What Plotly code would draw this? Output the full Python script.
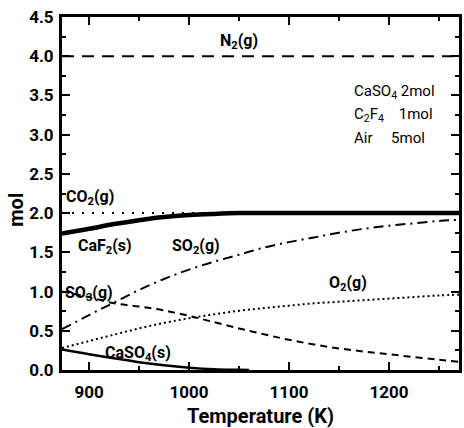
import plotly.graph_objects as go

T = [873, 900, 925, 950, 975, 1000, 1025, 1050, 1075, 1100, 1125, 1150, 1175, 1200, 1225, 1250, 1270]
so2 = [0.52, 0.70, 0.86, 1.02, 1.16, 1.28, 1.38, 1.47, 1.56, 1.63, 1.69, 1.75, 1.80, 1.84, 1.87, 1.90, 1.915]
so3 = [1.00, 0.93, 0.85, 0.81, 0.76, 0.69, 0.61, 0.53, 0.455, 0.385, 0.325, 0.275, 0.235, 0.20, 0.165, 0.13, 0.105]
o2 = [0.28, 0.37, 0.45, 0.53, 0.60, 0.66, 0.71, 0.755, 0.79, 0.82, 0.85, 0.87, 0.89, 0.91, 0.93, 0.95, 0.96]
caf2 = [1.74, 1.80, 1.86, 1.91, 1.95, 1.975, 1.99, 2.0, 2.0, 2.0, 2.0, 2.0, 2.0, 2.0, 2.0, 2.0, 2.0]
caso4_T = [873, 900, 925, 950, 975, 1000, 1025, 1050, 1060]
caso4 = [0.26, 0.20, 0.15, 0.10, 0.06, 0.03, 0.01, 0.002, 0.0]
n2_T = [873, 1270]
n2 = [4.0, 4.0]
co2_T = [873, 1270]
co2 = [2.0, 2.0]

FONT = "Roboto, Liberation Sans, sans-serif"

fig = go.Figure()
fig.add_trace(go.Scatter(x=n2_T, y=n2, mode="lines", line=dict(color="black", width=2, dash="12px,8px")))
fig.add_trace(go.Scatter(x=co2_T, y=co2, mode="lines", line=dict(color="black", width=2, dash="2px,8px")))
fig.add_trace(go.Scatter(x=T, y=caf2, mode="lines", line=dict(color="black", width=4.5, shape="spline")))
fig.add_trace(go.Scatter(x=T, y=so2, mode="lines", line=dict(color="black", width=2, dash="10px,5px,2px,5px", shape="spline")))
fig.add_trace(go.Scatter(x=T, y=so3, mode="lines", line=dict(color="black", width=2, dash="7px,5px", shape="spline")))
fig.add_trace(go.Scatter(x=T, y=o2, mode="lines", line=dict(color="black", width=2, dash="2px,3px", shape="spline")))
fig.add_trace(go.Scatter(x=caso4_T, y=caso4, mode="lines", line=dict(color="black", width=2.5, shape="spline")))

lab = dict(family=FONT, size=16, color="black")
def ann(x, y, text, xanchor="left", font=lab):
    fig.add_annotation(x=x, y=y, xref="x", yref="y", text=text, showarrow=False,
                       xanchor=xanchor, yanchor="middle", font=font)

ann(1050, 4.19, "<b>N<sub>2</sub>(g)</b>", "center")
ann(875, 2.2, "<b>CO<sub>2</sub>(g)</b>")
ann(887, 1.57, "<b>CaF<sub>2</sub>(s)</b>")
ann(981, 1.57, "<b>SO<sub>2</sub>(g)</b>")
ann(873.5, 0.97, "<b>SO<sub>3</sub>(g)</b>")
ann(1159, 1.1, "<b>O<sub>2</sub>(g)</b>", "center")
ann(914, 0.21, "<b>CaSO<sub>4</sub>(s)</b>")

plain = dict(family=FONT, size=15, color="black")
ann(1163, 3.55, "CaSO<sub>4</sub> 2mol", font=plain)
ann(1163, 3.25, "C<sub>2</sub>F<sub>4</sub>    1mol", font=plain)
ann(1163, 2.96, "Air     5mol", font=plain)

fig.add_annotation(x=-0.115, y=0.455, xref="paper", yref="paper", text="<b>mol</b>", showarrow=False,
                   textangle=-90, xanchor="center", yanchor="middle",
                   font=dict(family=FONT, size=20, color="black"))

axis_common = dict(showgrid=False, zeroline=False, showline=True, linecolor="black", linewidth=3,
                   mirror="allticks", ticks="inside", ticklen=8, tickwidth=2, tickcolor="black",
                   tickfont=dict(family=FONT, size=17, color="black"))

fig.update_xaxes(range=[873, 1270], tickvals=[900, 1000, 1100, 1200],
                 ticktext=["<b>900</b>", "<b>1000</b>", "<b>1100</b>", "<b>1200</b>"],
                 ticklabelstandoff=5,
                 minor=dict(tickvals=[950, 1050, 1150, 1250], ticks="inside", ticklen=4, tickwidth=1.5, tickcolor="black"),
                 title=dict(text="<b>Temperature (K)</b>", font=dict(family=FONT, size=20, color="black"), standoff=9),
                 **axis_common)
yv = [0, 0.5, 1.0, 1.5, 2.0, 2.5, 3.0, 3.5, 4.0, 4.5]
fig.update_yaxes(range=[0, 4.5], tickvals=yv, ticktext=["<b>%.1f</b>" % v for v in yv],
                 ticklabelstandoff=2,
                 minor=dict(tickvals=[0.25 + 0.5 * i for i in range(9)], ticks="inside", ticklen=4, tickwidth=1.5, tickcolor="black"),
                 **axis_common)

fig.update_layout(width=464, height=428, margin=dict(l=62, r=2, t=17, b=58),
                  paper_bgcolor="white", plot_bgcolor="white", showlegend=False)

fig.write_html("out.html")
